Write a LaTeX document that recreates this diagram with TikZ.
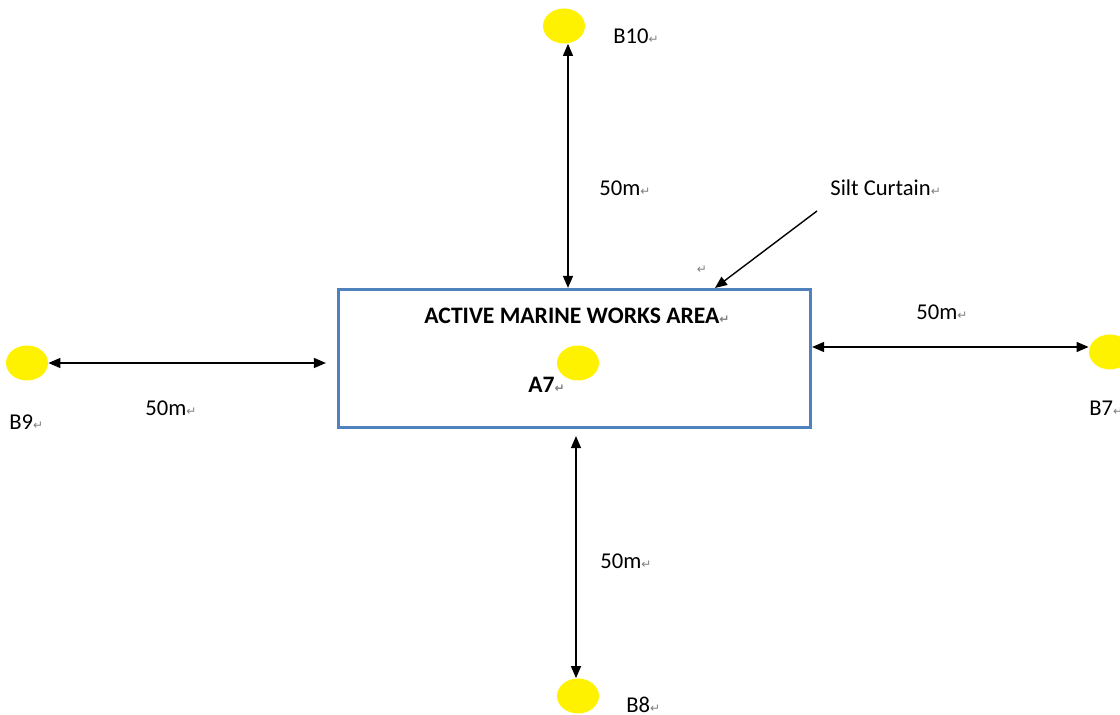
\documentclass[tikz,border=0pt]{standalone}
\usepackage{fontspec}
\setmainfont{Carlito}
\newfontfamily\symfont{DejaVu Sans}
\usetikzlibrary{arrows.meta,shapes.geometric}
\definecolor{wordblue}{RGB}{79,129,189}
\newcommand{\pmark}{{\symfont\fontsize{6}{7}\selectfont\color{gray}↵}}
\tikzset{
  dot/.style={ellipse,fill=yellow,draw=none,minimum width=21pt,minimum height=17.5pt,inner sep=0pt},
  lbl/.style={anchor=west,inner sep=0pt,font=\fontsize{11.3}{13}\selectfont},
  boldlbl/.style={lbl,font=\fontsize{11.8}{13}\selectfont\bfseries},
  tip/.style={-{Triangle[length=6pt,width=5pt]},line width=0.7pt},
  both/.style={{Triangle[length=6pt,width=5pt]}-{Triangle[length=6pt,width=5pt]},line width=0.7pt}
}
\begin{document}
\begin{tikzpicture}[x=0.5pt,y=-0.5pt]
\useasboundingbox (0,0) rectangle (1120,715);
% work area
\node[draw=wordblue,line width=1.6pt,minimum width=236pt,minimum height=69pt,inner sep=0pt] (area) at (574.5,358.5) {};
\node[boldlbl] (title) at (424,316) {ACTIVE MARINE WORKS AREA\pmark};
\node[dot] (a7) at (578,363) {};
\node[boldlbl] (a7lbl) at (528,385) {A7\pmark};
% monitoring points
\node[dot] (b10) at (564,26) {};
\node[dot] (b8) at (578,696) {};
\node[dot] (b9) at (27,363) {};
\node[dot] (b7) at (1110,352) {};
\node[lbl] (b10lbl) at (613,36) {B10\pmark};
\node[lbl] (b8lbl) at (626,705) {B8\pmark};
\node[lbl] (b9lbl) at (9,422) {B9\pmark};
\node[lbl] (b7lbl) at (1089,408) {B7\pmark};
% distances
\draw[both] ([xshift=2pt]b10.south) -- ([xshift=2pt]b10.south |- area.north);
\draw[both] ([xshift=-1pt,yshift=-3.5pt]b8.north |- area.south) -- ([xshift=-1pt]b8.north);
\draw[both] (b9.east) -- ([xshift=-5.5pt]area.west |- b9.east);
\draw[both] (area.east |- 0,347) -- (b7.west |- 0,347);
\node[lbl] (dtop) at (599,188) {50m\pmark};
\node[lbl] (dbot) at (600,561) {50m\pmark};
\node[lbl] (dleft) at (145,408) {50m\pmark};
\node[lbl] (dright) at (916,312) {50m\pmark};
% silt curtain
\node[lbl] (silt) at (830,188) {Silt Curtain\pmark};
\coordinate (siltstart) at (817,211);
\coordinate (siltend) at (715,288);
\draw[tip] (siltstart) -- (siltend);
\node[inner sep=0pt] (mark) at (702,270) {\pmark};
\end{tikzpicture}
\end{document}
